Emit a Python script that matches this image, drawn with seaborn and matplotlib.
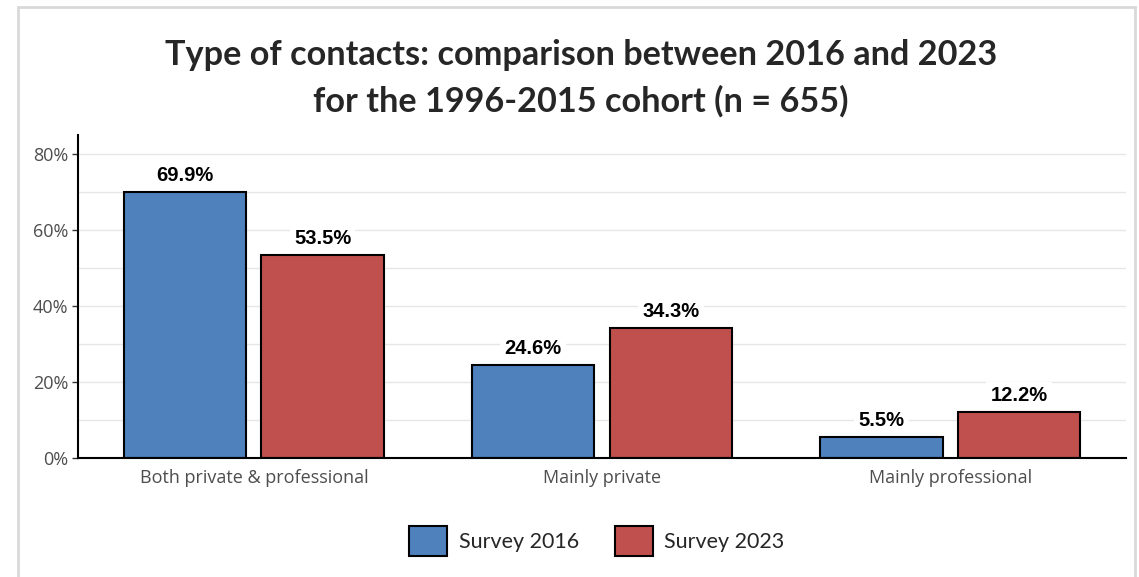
import seaborn as sns
import matplotlib.pyplot as plt
import matplotlib.patches as mpatches
from matplotlib.ticker import PercentFormatter, MultipleLocator
import pandas as pd

# --- Data ---
categories = ['Both private & professional', 'Mainly private', 'Mainly professional']
surveys = ['Survey 2016', 'Survey 2023']
share_2016 = [69.9, 24.6, 5.5]
share_2023 = [53.5, 34.3, 12.2]
colors = ['#4F81BD', '#C0504D']

df = pd.DataFrame({
    'Type': categories * 2,
    'Survey': [surveys[0]] * 3 + [surveys[1]] * 3,
    'Share': share_2016 + share_2023,
})

# --- Styling ---
sns.set_style('white')

fig = plt.figure(figsize=(11.39, 5.77), dpi=100)
ax = fig.add_axes([0.0685, 0.206, 0.92, 0.56])

sns.barplot(data=df, x='Type', y='Share', hue='Survey', palette=colors,
            width=0.79, gap=0.11, edgecolor='black', linewidth=1.5,
            saturation=1, ax=ax, legend=True)

# value labels
for cont in ax.containers:
    ax.bar_label(cont, fmt='%.1f%%', padding=5, fontsize=14.5, fontweight='bold',
                 family='Liberation Sans', color='black',
                 bbox=dict(facecolor='white', edgecolor='none', pad=3))

ax.set_ylim(0, 85)
ax.set_xlim(-0.505, 2.505)
ax.yaxis.set_major_locator(MultipleLocator(20))
ax.yaxis.set_minor_locator(MultipleLocator(10))
ax.yaxis.set_major_formatter(PercentFormatter(decimals=0))
ax.grid(axis='y', which='both', color='#e6e6e6', linewidth=1)
ax.set_axisbelow(True)

for s in ['top', 'right']:
    ax.spines[s].set_visible(False)
for s in ['left', 'bottom']:
    ax.spines[s].set_color('black')
    ax.spines[s].set_linewidth(1.5)

ax.tick_params(axis='y', which='major', length=4, width=1, color='#333333',
               labelsize=13, labelcolor='#4d4d4d', left=True, pad=3)
ax.tick_params(axis='y', which='minor', length=0)
ax.tick_params(axis='x', length=0, labelsize=13, labelcolor='#4d4d4d', pad=8)
for lab in ax.get_xticklabels() + ax.get_yticklabels():
    lab.set_family('Open Sans')
ax.set_xlabel('')
ax.set_ylabel('')

# legend
handles = [mpatches.Patch(facecolor=c, edgecolor='black', linewidth=1.5) for c in colors]
ax.get_legend().remove()
fig.legend(handles, surveys, loc='center', bbox_to_anchor=(0.524, 0.063), ncol=2,
           frameon=False, handlelength=1.77, handleheight=1.77, handletextpad=0.55,
           columnspacing=1.65, prop={'family': 'Lato', 'size': 15.5})

# title
fig.text(0.51, 0.905, 'Type of contacts: comparison between 2016 and 2023',
         ha='center', va='center', fontsize=24.7, fontweight='bold',
         family='Lato', color='#262626')
fig.text(0.51, 0.825, 'for the 1996-2015 cohort (n = 655)',
         ha='center', va='center', fontsize=24.7, fontweight='bold',
         family='Lato', color='#262626')

# outer border
fig.patches.append(mpatches.Rectangle((0.0155, -0.01), 0.981, 0.998,
                                      transform=fig.transFigure, fill=False,
                                      edgecolor='#d9d9d9', linewidth=2))

plt.savefig('out.png', dpi=100)
